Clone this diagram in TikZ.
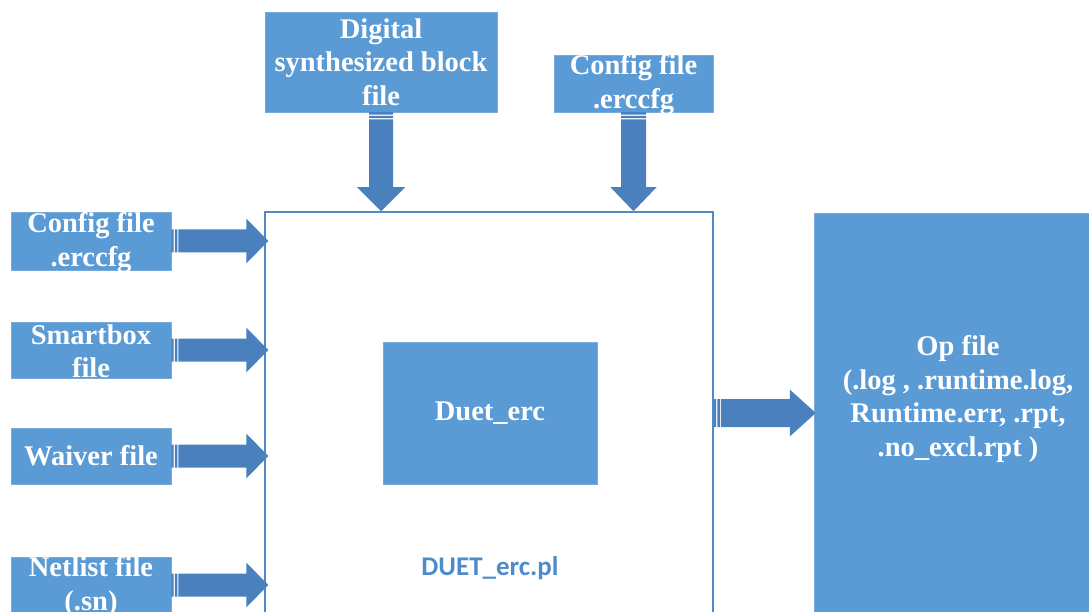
\documentclass[tikz,border=0pt]{standalone}
\usepackage{fontspec}
\setmainfont{Liberation Serif}
\newfontfamily\calibrifont{Carlito}
\usetikzlibrary{calc,shadows}

\definecolor{boxblue}{RGB}{91,155,213}
\definecolor{boxedge}{RGB}{120,170,218}
\definecolor{arrowblue}{RGB}{74,128,190}
\definecolor{frameblue}{RGB}{82,138,198}
\definecolor{lblblue}{RGB}{76,139,204}

\tikzset{
  filebox/.style={fill=boxblue, draw=boxedge, line width=0.5pt, inner sep=0pt,
    drop shadow={opacity=0.18, shadow xshift=0.8pt, shadow yshift=-1.4pt}},
  boxtext/.style={text=white, inner sep=0pt, align=center,
    font=\fontsize{28.5}{33.5}\selectfont\bfseries},
  frame/.style={draw=frameblue, line width=1.5pt, inner sep=0pt},
}

% striped block arrow pointing right: from, to, shaft half height, head half height, head length
\newcommand{\rightflow}[5]{%
  \fill[arrowblue] let \p1=#1, \p2=#2 in
    (\x1,\y1-#3) rectangle (\x1+2.4pt,\y1+#3)
    (\x1+3.6pt,\y1-#3) rectangle (\x1+6pt,\y1+#3)
    (\x1+7.2pt,\y1-#3) -- (\x2-#5,\y1-#3) -- (\x2-#5,\y1-#4)
    -- (\x2,\y1) -- (\x2-#5,\y1+#4) -- (\x2-#5,\y1+#3)
    -- (\x1+7.2pt,\y1+#3) -- cycle;}

% striped block arrow pointing down: from, to, shaft half width, head half width, head length
\newcommand{\downflow}[5]{%
  \fill[arrowblue] let \p1=#1, \p2=#2 in
    (\x1-#3,\y1) rectangle (\x1+#3,\y1-2.4pt)
    (\x1-#3,\y1-3.6pt) rectangle (\x1+#3,\y1-6pt)
    (\x1-#3,\y1-7.2pt) -- (\x1-#3,\y2+#5) -- (\x1-#4,\y2+#5)
    -- (\x1,\y2) -- (\x1+#4,\y2+#5) -- (\x1+#3,\y2+#5)
    -- (\x1+#3,\y1-7.2pt) -- cycle;}

\begin{document}
\begin{tikzpicture}[x=1pt,y=-1pt]
\useasboundingbox (0,0) rectangle (1089,612);
\clip (0,0) rectangle (1089,612);

% script frame and output block (both run past the lower edge)
\node[frame, minimum width=448pt, minimum height=440pt] (main) at (489,432) {};
\node[filebox, minimum width=286pt, minimum height=427pt] (opbox) at (957,426.5) {};

% input files on the left
\node[filebox, minimum width=160pt, minimum height=58pt] (cfgL) at (91,241) {};
\node[filebox, minimum width=160pt, minimum height=56pt] (smart) at (91,350) {};
\node[filebox, minimum width=160pt, minimum height=56pt] (waiver) at (91,456) {};
\node[filebox, minimum width=160pt, minimum height=56pt] (netlist) at (91,585) {};

% input files on top
\node[filebox, minimum width=232pt, minimum height=100pt] (digital) at (381,62) {};
\node[filebox, minimum width=159pt, minimum height=57pt] (cfgT) at (633.5,83.5) {};

% the tool itself
\node[filebox, minimum width=214pt, minimum height=142pt] (duet) at (490,413) {};

% flows into the script
\rightflow{(cfgL.east)}{($(main.west |- cfgL.east)+(4,0)$)}{11.5pt}{22.5pt}{22pt}
\rightflow{(smart.east)}{($(main.west |- smart.east)+(4,0)$)}{11.5pt}{22.5pt}{22pt}
\rightflow{(waiver.east)}{($(main.west |- waiver.east)+(4,0)$)}{11.5pt}{22.5pt}{22pt}
\rightflow{(netlist.east)}{($(main.west |- netlist.east)+(4,0)$)}{11.5pt}{22.5pt}{22pt}
\downflow{(digital.south)}{(main.north -| digital.south)}{12pt}{24pt}{24pt}
\downflow{(cfgT.south)}{(main.north -| cfgT.south)}{12.5pt}{23pt}{24pt}

% flow out to the reports
\rightflow{(main.east |- duet.center)}{($(opbox.west |- duet.center)+(2,0)$)}{14pt}{23.5pt}{26pt}

% labels
\node[boxtext] (cfgLt) at ($(cfgL.center)+(0,1.5)$) {Config file\\.erccfg};
\node[boxtext] (smartt) at ($(smart.center)+(0,1)$) {Smartbox\\file};
\node[boxtext] (waivert) at (waiver.center) {Waiver file};
\node[boxtext] (netlistt) at ($(netlist.center)+(0,1.5)$) {Netlist file\\(.sn)};
\node[boxtext] (digitalt) at (digital.center) {Digital\\synthesized block\\file};
\node[boxtext] (cfgTt) at ($(cfgT.center)+(0,1)$) {Config file\\.erccfg};
\node[boxtext] (duett) at (duet.center) {Duet\_erc};
\node[boxtext] (opt) at (958,399) {Op file\\(.log , .runtime.log,\\Runtime.err, .rpt,\\.no\_excl.rpt )};
\node[text=lblblue, inner sep=0pt, font=\calibrifont\bfseries\fontsize{27}{32}\selectfont] (mainlbl) at (490,568) {DUET\_erc.pl};
\end{tikzpicture}
\end{document}
